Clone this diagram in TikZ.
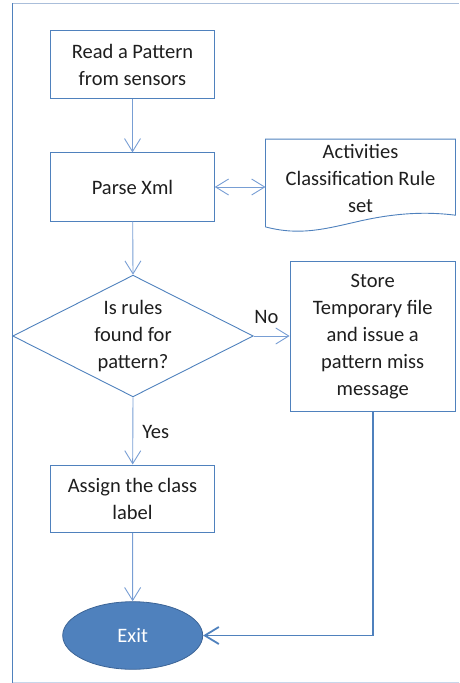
\documentclass[tikz,border=0pt]{standalone}
\usepackage{fontspec}
\setmainfont{Carlito}
\usetikzlibrary{shapes.geometric,arrows.meta}
\definecolor{boxblue}{RGB}{79,129,189}
\definecolor{arrowblue}{RGB}{120,158,212}
\definecolor{framelight}{RGB}{170,190,218}
\definecolor{framebot}{RGB}{200,214,234}
\definecolor{txt}{RGB}{30,30,30}
\begin{document}
\begin{tikzpicture}[x=1pt,y=-1pt,
  every node/.style={font=\fontsize{20.5}{27}\selectfont, text=txt},
  procbox/.style={draw=boxblue, line width=0.9pt, rectangle, inner sep=0pt, align=center},
  flow/.style={draw=arrowblue, line width=0.9pt, -{Straight Barb[length=13pt,width=16pt]}},
  biflow/.style={draw=arrowblue, line width=0.9pt, {Straight Barb[length=13pt,width=16pt]}-{Straight Barb[length=13pt,width=16pt]}},
  strongflow/.style={draw=boxblue, line width=1.8pt, -{Straight Barb[length=14pt,width=17pt]}},
  lbl/.style={inner sep=0pt}
]
\useasboundingbox (0,0) rectangle (459,683);
% frame
\draw[framelight, line width=0.9pt] (12.7,3.3) -- (459,3.3);
\draw[framebot, line width=0.9pt] (12.7,682) -- (459,682);
\draw[boxblue, line width=0.9pt] (12.7,3.3) -- (12.7,683);

% nodes
\node[procbox, minimum width=163.6pt, minimum height=67.6pt] (read) at (132.5,64.5) {Read a Pattern\\from sensors};
\node[procbox, minimum width=163.6pt, minimum height=68.3pt] (parse) at (132.5,187) {Parse Xml};
\node[rectangle, inner sep=0pt, minimum width=189.6pt, minimum height=87.4pt] (rules) at (360.5,183) {};
\draw[boxblue, line width=0.9pt] (rules.south west) -- (rules.north west) -- (rules.north east) -- ([yshift=11.7pt]rules.south east)
  .. controls (430,212) and (400,212) .. (360,221)
  .. controls (325,229) and (300,236) .. cycle;
\node[lbl, align=center] (rulestext) at (360.5,178) {Activities\\Classification Rule\\set};

\node[draw=boxblue, line width=0.9pt, diamond, inner sep=0pt, minimum width=240.6pt, minimum height=121.7pt] (dec) at (133,336) {};
\node[lbl, align=center] (dectext) at (dec) {Is rules\\found for\\pattern?};

\node[procbox, minimum width=165.3pt, minimum height=149.3pt] (store) at (372.7,336.3) {Store\\Temporary file\\and issue a\\pattern miss\\message};
\node[procbox, minimum width=163.6pt, minimum height=67.7pt] (assign) at (132.5,498.8) {Assign the class\\label};
\node[ellipse, draw={rgb,255:red,60;green,100;blue,150}, line width=0.8pt, fill=boxblue, inner sep=0pt, minimum width=140pt, minimum height=67.6pt, text=white] (exit) at (132.7,635.5) {Exit};

% connectors
\draw[flow] (read) -- (parse);
\draw[biflow] (parse.east) -- (parse.east -| rules.west);
\draw[flow] (parse) -- (dec.north);
\draw[flow] (dec.east) -- node[lbl, above=12pt, pos=0.35] (no) {No} (dec.east -| store.west);
\draw[flow] (dec.south) -- node[lbl, right=9pt, pos=0.52] (yes) {Yes} (assign);
\draw[flow] (assign) -- (exit);
\draw[strongflow] (store.south) |- (exit.east);
\end{tikzpicture}
\end{document}
